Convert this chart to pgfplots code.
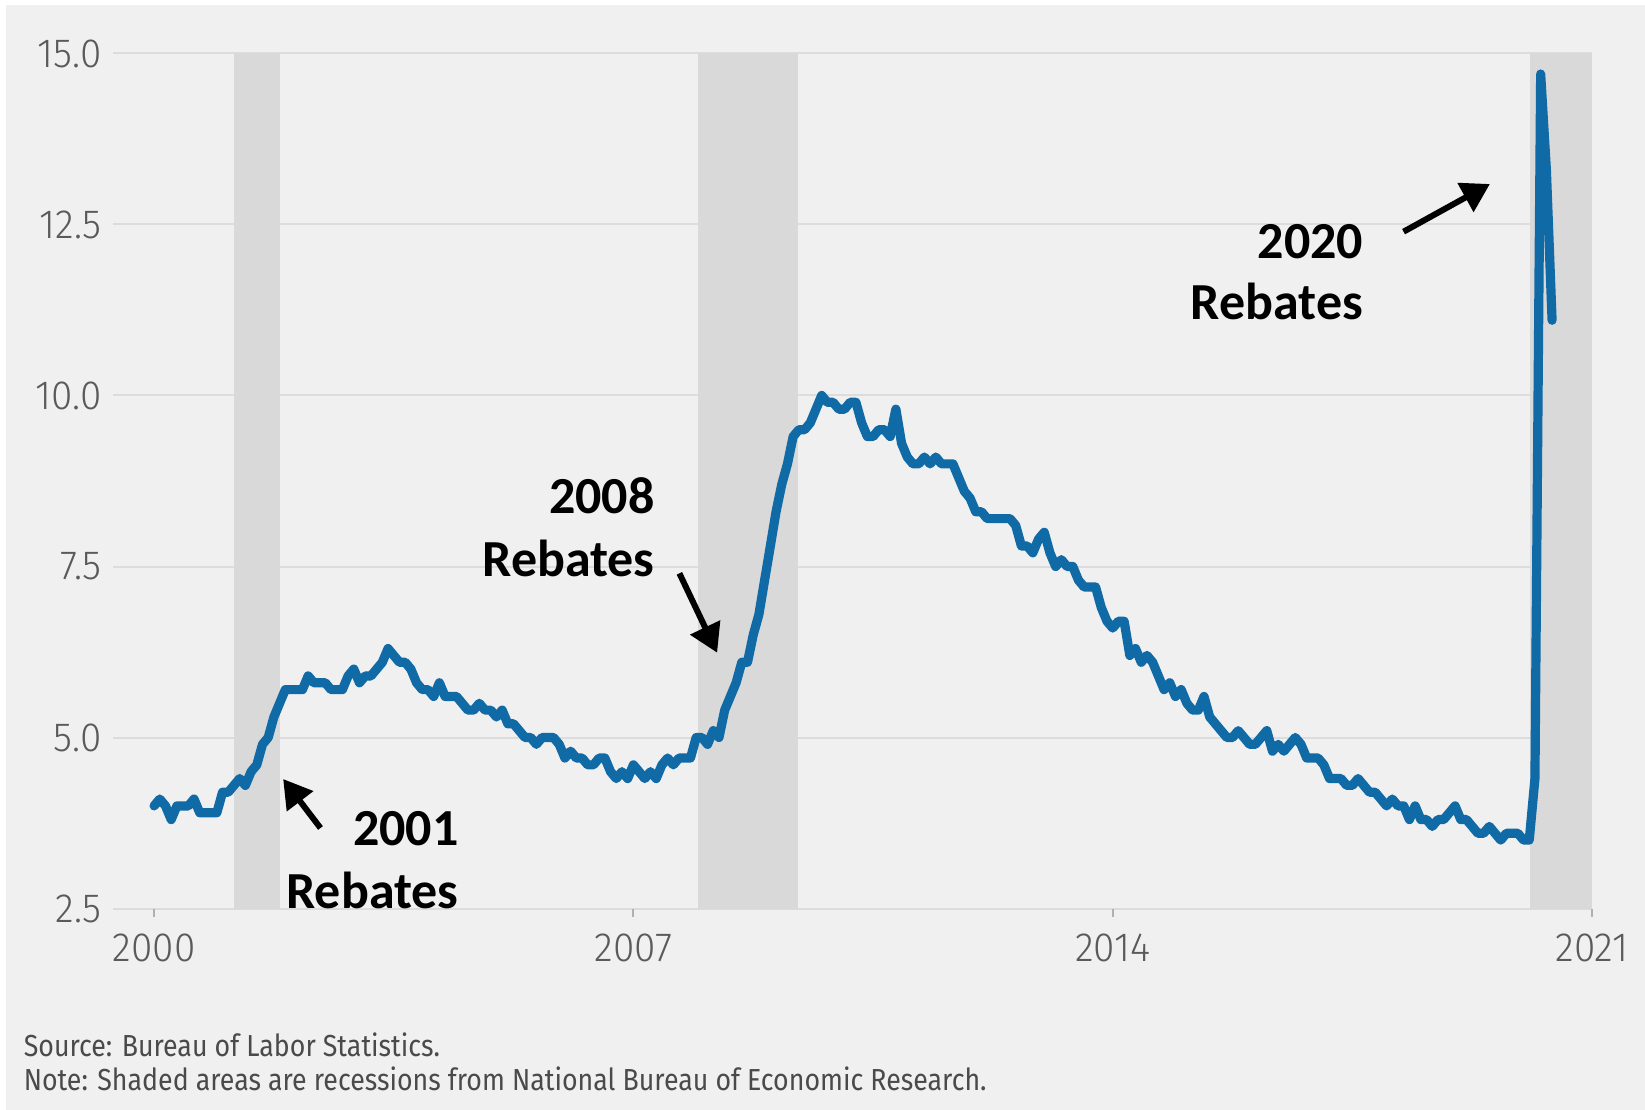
\documentclass[border=0pt]{standalone}
\usepackage{fontspec}
\usepackage{pgfplots}
\pgfplotsset{compat=1.18}
\usepackage{pgfplotstable}
\usetikzlibrary{arrows.meta}
\setmainfont{Fira Sans}
\newfontfamily\tickfont{Fira Sans Light}[FakeStretch=0.95]
\newfontfamily\notefont{Fira Sans}[FakeStretch=0.88]
\newfontfamily\annfont{Carlito}

\definecolor{bgc}{HTML}{F0F0F0}
\definecolor{shade}{HTML}{D9D9D9}
\definecolor{gridc}{HTML}{DCDCDC}
\definecolor{linec}{HTML}{106AA6}
\definecolor{tickc}{HTML}{5A5A5A}
\definecolor{notec}{HTML}{4A4A4A}

% monthly unemployment rate, Jan 2000 - Jun 2020
\pgfplotstableread[row sep=\\]{
u\\
4.0\\4.1\\4.0\\3.8\\4.0\\4.0\\4.0\\4.1\\3.9\\3.9\\3.9\\3.9\\
4.2\\4.2\\4.3\\4.4\\4.3\\4.5\\4.6\\4.9\\5.0\\5.3\\5.5\\5.7\\
5.7\\5.7\\5.7\\5.9\\5.8\\5.8\\5.8\\5.7\\5.7\\5.7\\5.9\\6.0\\
5.8\\5.9\\5.9\\6.0\\6.1\\6.3\\6.2\\6.1\\6.1\\6.0\\5.8\\5.7\\
5.7\\5.6\\5.8\\5.6\\5.6\\5.6\\5.5\\5.4\\5.4\\5.5\\5.4\\5.4\\
5.3\\5.4\\5.2\\5.2\\5.1\\5.0\\5.0\\4.9\\5.0\\5.0\\5.0\\4.9\\
4.7\\4.8\\4.7\\4.7\\4.6\\4.6\\4.7\\4.7\\4.5\\4.4\\4.5\\4.4\\
4.6\\4.5\\4.4\\4.5\\4.4\\4.6\\4.7\\4.6\\4.7\\4.7\\4.7\\5.0\\
5.0\\4.9\\5.1\\5.0\\5.4\\5.6\\5.8\\6.1\\6.1\\6.5\\6.8\\7.3\\
7.8\\8.3\\8.7\\9.0\\9.4\\9.5\\9.5\\9.6\\9.8\\10.0\\9.9\\9.9\\
9.8\\9.8\\9.9\\9.9\\9.6\\9.4\\9.4\\9.5\\9.5\\9.4\\9.8\\9.3\\
9.1\\9.0\\9.0\\9.1\\9.0\\9.1\\9.0\\9.0\\9.0\\8.8\\8.6\\8.5\\
8.3\\8.3\\8.2\\8.2\\8.2\\8.2\\8.2\\8.1\\7.8\\7.8\\7.7\\7.9\\
8.0\\7.7\\7.5\\7.6\\7.5\\7.5\\7.3\\7.2\\7.2\\7.2\\6.9\\6.7\\
6.6\\6.7\\6.7\\6.2\\6.3\\6.1\\6.2\\6.1\\5.9\\5.7\\5.8\\5.6\\
5.7\\5.5\\5.4\\5.4\\5.6\\5.3\\5.2\\5.1\\5.0\\5.0\\5.1\\5.0\\
4.9\\4.9\\5.0\\5.1\\4.8\\4.9\\4.8\\4.9\\5.0\\4.9\\4.7\\4.7\\
4.7\\4.6\\4.4\\4.4\\4.4\\4.3\\4.3\\4.4\\4.3\\4.2\\4.2\\4.1\\
4.0\\4.1\\4.0\\4.0\\3.8\\4.0\\3.8\\3.8\\3.7\\3.8\\3.8\\3.9\\
4.0\\3.8\\3.8\\3.7\\3.6\\3.6\\3.7\\3.6\\3.5\\3.6\\3.6\\3.6\\
3.5\\3.5\\4.4\\14.7\\13.3\\11.1\\
}\unrate

\begin{document}
\begin{tikzpicture}
\fill[white] (0,0) rectangle (411.25pt,-277.5pt);
\fill[bgc] (1.5pt,-1.25pt) rectangle (411.25pt,-277.5pt);
\path[use as bounding box] (0,0) rectangle (411.25pt,-277.5pt);

\begin{axis}[
    at={(28.25pt,-227.125pt)}, anchor=south west,
    scale only axis, width=369.75pt, height=213.75pt,
    xmin=1999.4, xmax=2021, ymin=2.5, ymax=15,
    clip=false,
    axis line style={draw=none},
    xtick={2000,2007,2014,2021}, xticklabels={2000,2007,2014,2021},
    ytick={2.5,5,7.5,10,12.5,15}, yticklabels={2.5,5.0,7.5,10.0,12.5,15.0},
    xtick pos=bottom, ytick pos=left,
    tick align=outside, major tick length=2pt,
    xtick style={draw=gridc!80!black, line width=0.5pt},
    ytick style={draw=none},
    ymajorgrids, major grid style={draw=gridc, line width=0.5pt},
    xticklabel style={font=\tickfont\fontsize{10.2}{11}\selectfont, text=tickc, inner sep=0pt, yshift=-4.2pt},
    yticklabel style={font=\tickfont\fontsize{10.2}{11}\selectfont, text=tickc, inner sep=0pt, xshift=-0.7pt},
  ]
  % recessions
  \addplot[draw=none, fill=shade] coordinates {(2001.167,2.5) (2001.167,15) (2001.833,15) (2001.833,2.5)} -- cycle;
  \addplot[draw=none, fill=shade] coordinates {(2007.95,2.5) (2007.95,15) (2009.41,15) (2009.41,2.5)} -- cycle;
  \addplot[draw=none, fill=shade] coordinates {(2020.1,2.5) (2020.1,15) (2021,15) (2021,2.5)} -- cycle;

  \addplot[linec, line width=2.3pt, line join=round, line cap=round]
    table[x expr=2000+\coordindex/12, y=u] {\unrate};

  % annotations
  \tikzset{ann/.style={anchor=base east, inner sep=0pt, font=\annfont\bfseries\fontsize{13}{16}\selectfont},
           arr/.style={-{Triangle[length=7pt,width=8pt]}, line width=1.5pt}}
  \node[ann] at (axis cs:2004.457,3.414) {2001};
  \node[ann] at (axis cs:2004.457,2.493) {Rebates};
  \draw[arr] (axis cs:2002.43,3.677) -- (axis cs:2001.885,4.393);

  \node[ann] at (axis cs:2007.321,8.282) {2008};
  \node[ann] at (axis cs:2007.321,7.347) {Rebates};
  \draw[arr] (axis cs:2007.672,7.40) -- (axis cs:2008.223,6.24);

  \node[ann] at (axis cs:2017.668,12.010) {2020};
  \node[ann] at (axis cs:2017.668,11.104) {Rebates};
  \draw[arr] (axis cs:2018.248,12.395) -- (axis cs:2019.509,13.092);
\end{axis}

\node[anchor=base west, inner sep=0pt, font=\notefont\fontsize{7.6}{8}\selectfont, text=notec]
  at (5.75pt,-264pt) {Source: Bureau of Labor Statistics.};
\node[anchor=base west, inner sep=0pt, font=\notefont\fontsize{7.6}{8}\selectfont, text=notec]
  at (5.75pt,-272.5pt) {Note: Shaded areas are recessions from National Bureau of Economic Research.};
\end{tikzpicture}
\end{document}
